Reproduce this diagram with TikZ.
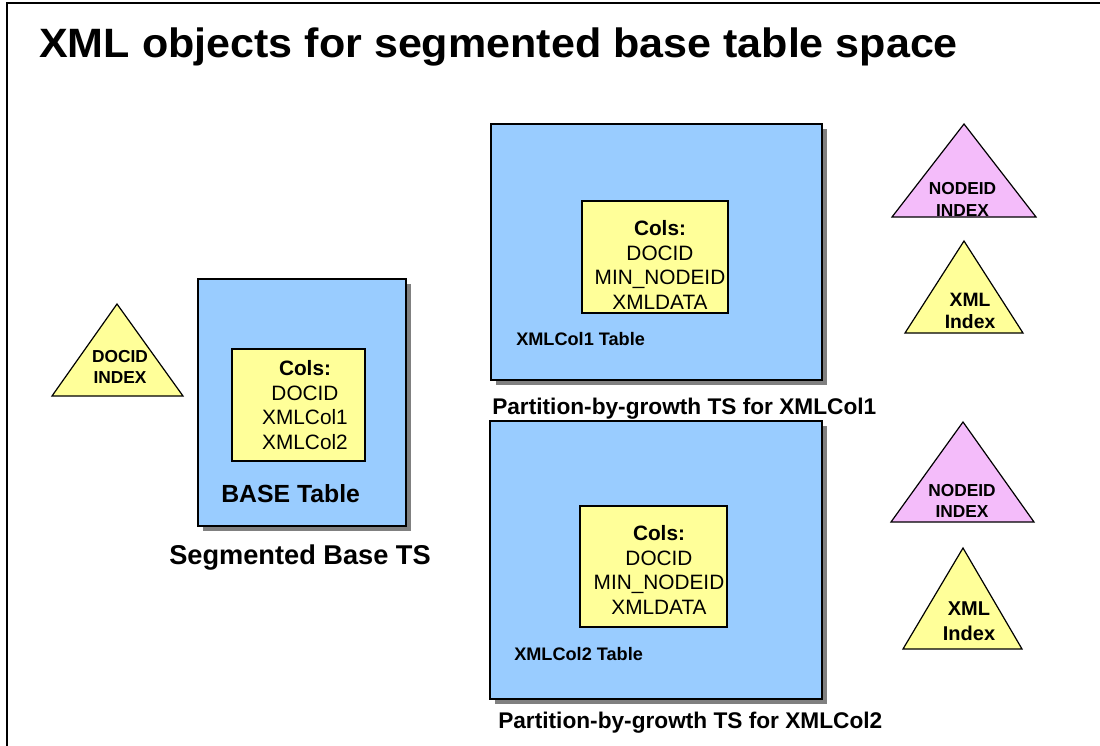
\documentclass[tikz,border=0pt]{standalone}
\usepackage{fontspec}
\setmainfont{Liberation Sans}
\usetikzlibrary{fit,shadows}
\definecolor{tsblue}{HTML}{99CCFF}
\definecolor{colyellow}{HTML}{FFFF99}
\definecolor{idxpink}{HTML}{F4BCFA}
\definecolor{shadegray}{HTML}{808080}
\tikzset{
  tsbox/.style={draw=black, line width=1.1pt, fill=tsblue, inner sep=0pt,
    drop shadow={shadow xshift=4pt, shadow yshift=-4pt, fill=shadegray, opacity=1}},
  colbox/.style={draw=black, line width=1pt, fill=colyellow, inner sep=0pt},
  idxtri/.style={draw=black, line width=0.9pt, line join=miter},
  lbl/.style={inner sep=0pt, align=center},
  colsfont/.style={font=\fontsize{15.6}{18.5}\selectfont},
  idxfont/.style={font=\fontsize{13}{16}\selectfont\bfseries},
  tblfont/.style={font=\fontsize{13.6}{16}\selectfont\bfseries},
  capfont/.style={font=\fontsize{17}{20}\selectfont\bfseries},
}
\begin{document}
\begin{tikzpicture}[x=0.75pt, y=-0.75pt]
\useasboundingbox (0,0) rectangle (1100,746);

% page frame
\draw[line width=1.5pt] (7,746) -- (7,3) -- (1100,3);

% title
\node[anchor=base west, inner sep=0pt, xscale=1.05,
  font=\fontsize{30.75}{36}\selectfont\bfseries]
  (title) at (39,57.5) {XML objects for segmented base table space};

% segmented base table space
\node[tsbox, fit={(198,279) (406,526)}] (basets) {};
\node[colbox, fit={(232,349) (365,461)}] (basecols) {};
\node[lbl, anchor=north, colsfont] (basecolstxt) at (305,360)
  {\textbf{Cols:}\\DOCID\\XMLCol1\\XMLCol2};
\node[anchor=base west, inner sep=0pt, font=\fontsize{18.6}{22}\selectfont\bfseries]
  (basetbl) at (221,502) {BASE Table};
\node[anchor=base west, inner sep=0pt, font=\fontsize{20.4}{24}\selectfont\bfseries]
  (basecap) at (169,564) {Segmented Base TS};

% DOCID index
\draw[idxtri, fill=colyellow] (117,304) -- (183,396) -- (52,396) -- cycle;
\node[lbl, anchor=north, idxfont] (docidx) at (120,350) {DOCID\\INDEX};

% partition-by-growth table space for XMLCol1
\node[tsbox, fit={(491,124) (822,380)}] (xts1) {};
\node[colbox, fit={(582,201) (728,313)}] (xcols1) {};
\node[lbl, anchor=north, colsfont] (xcolstxt1) at (660,220)
  {\textbf{Cols:}\\DOCID\\MIN\_NODEID\\XMLDATA};
\node[anchor=base west, inner sep=0pt, tblfont] (xtbl1) at (516,345) {XMLCol1 Table};
\node[anchor=base west, inner sep=0pt, capfont]
  (xcap1) at (492,414) {Partition-by-growth TS for XMLCol1};

% partition-by-growth table space for XMLCol2
\node[tsbox, fit={(490,421) (822,699)}] (xts2) {};
\node[colbox, fit={(580,506) (727,627)}] (xcols2) {};
\node[lbl, anchor=north, colsfont] (xcolstxt2) at (659,525)
  {\textbf{Cols:}\\DOCID\\MIN\_NODEID\\XMLDATA};
\node[anchor=base west, inner sep=0pt, tblfont] (xtbl2) at (514,660) {XMLCol2 Table};
\node[anchor=base west, inner sep=0pt, capfont]
  (xcap2) at (498,728) {Partition-by-growth TS for XMLCol2};

% indexes on XMLCol1 table
\draw[idxtri, fill=idxpink] (964,124) -- (1036,217) -- (892,217) -- cycle;
\node[lbl, anchor=north, font=\fontsize{13}{16.5}\selectfont\bfseries]
  (nodeidx1) at (962.5,182) {NODEID\\INDEX};
\draw[idxtri, fill=colyellow] (964,241) -- (1023,333) -- (905,333) -- cycle;
\node[lbl, anchor=north, font=\fontsize{14.5}{16.5}\selectfont\bfseries]
  (xmlidx1) at (970,293) {XML\\Index};

% indexes on XMLCol2 table
\draw[idxtri, fill=idxpink] (963,422) -- (1034,522) -- (891,522) -- cycle;
\node[lbl, anchor=north, font=\fontsize{13}{16}\selectfont\bfseries]
  (nodeidx2) at (962,484) {NODEID\\INDEX};
\draw[idxtri, fill=colyellow] (963,548) -- (1022,649) -- (903,649) -- cycle;
\node[lbl, anchor=north, font=\fontsize{15}{18.75}\selectfont\bfseries]
  (xmlidx2) at (969,601) {XML\\Index};
\end{tikzpicture}
\end{document}
